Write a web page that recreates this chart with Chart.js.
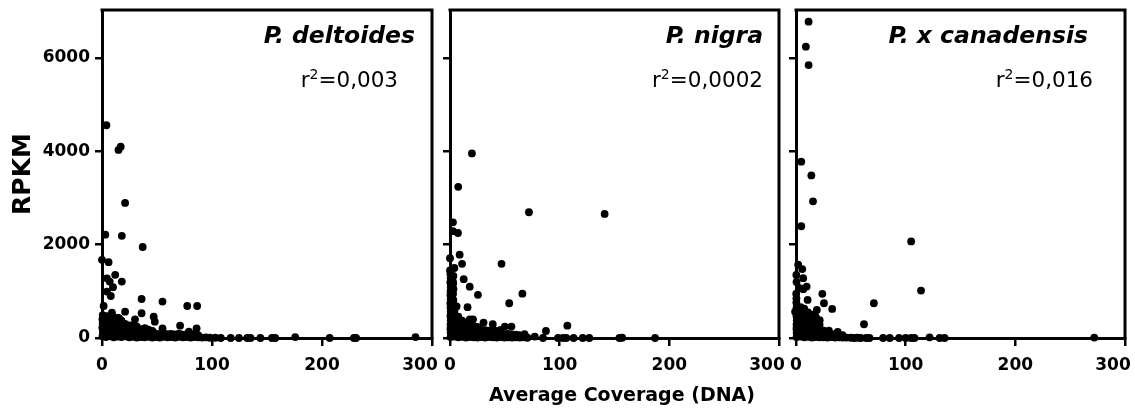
<!DOCTYPE html>
<html><head><meta charset="utf-8">
<script src="https://cdn.jsdelivr.net/npm/chart.js@4.4.0/dist/chart.umd.min.js"></script>
<style>
html,body{margin:0;padding:0;background:#fff;width:1135px;height:413px;overflow:hidden}
.p{position:absolute;top:0;height:413px}
canvas{display:block}
</style></head><body>
<div class="p" style="left:0;width:470px"><canvas id="c1" width="470" height="413"></canvas></div>
<div class="p" style="left:436px;width:370px"><canvas id="c2" width="370" height="413"></canvas></div>
<div class="p" style="left:782px;width:353px"><canvas id="c3" width="353" height="413"></canvas></div>
<script>
// ---- data ----
const xTicks = [0, 100, 200, 300];
const yTicks = [0, 2000, 4000, 6000];
const panelTitles = ['P. deltoides', 'P. nigra', 'P. x canadensis'];
const r2Values = ['0,003', '0,0002', '0,016'];
const xAxisTitle = 'Average Coverage (DNA)';
const yAxisTitle = 'RPKM';

const deltoidesPoints = [
 [4,4560],[15,4030],[17,4100],[21,2895],[3,2215],[18,2190],[37,1950],[0,1676],[6,1626],[12,1355],
 [4.5,1280],[7,1210],[18,1210],[10,1090],[4.5,995],[8,900],[36,836],[55,780],[77.5,686],[86.5,686],
 [1.5,686],[21,565],[36,530],[9,545],[47,458],[48,350],[30,400],[15.5,425],[71,265],[79,135],
 [55,208],[86,208],[39,210],
 [0.5,40],[0.8,130],[0.3,220],[0.6,310],[0.4,400],[0.7,490],
 [3.6,20],[3.8,110],[3.4,200],[3.9,290],[3.5,380],[3.7,470],
 [7.1,35],[7.3,125],[6.9,215],[7.2,305],[7,395],[7.4,480],
 [10.6,15],[10.4,105],[10.8,195],[10.5,285],[10.7,375],[10.3,455],
 [14.1,30],[14.3,120],[13.9,210],[14.2,300],[14,390],[14.4,430],
 [17.6,20],[17.4,110],[17.8,200],[17.5,290],[17.7,370],
 [21.1,35],[20.9,120],[21.3,210],[21,300],
 [24.6,15],[24.4,100],[24.8,185],[24.5,270],
 [28.1,25],[27.9,110],[28.3,195],[28,275],
 [31.6,10],[31.4,95],[31.8,180],[31.5,250],
 [35.1,20],[34.9,105],[35.3,190],
 [38.6,15],[38.4,95],[38.8,170],
 [42.1,25],[41.9,110],[42.3,180],
 [45.6,10],[45.4,90],[45.8,150],
 [49.1,20],[49,95],[52.6,10],[52.4,85],[56.1,25],[56,105],[59.6,15],[59.4,80],[63.1,20],[62.9,90],
 [66.6,10],[66.4,75],[70.1,25],[70,95],[73.6,15],[73.4,70],[77.1,20],[77,80],[80.6,10],[80.4,70],
 [84.1,20],[84,90],[87.6,15],[87.4,60],[91.1,10],[94.6,15],[98.1,5],
 [103,5],[108,0],[117,0],[124.5,0],[132,0],[135,0],[144,0],[154.5,0],[157.5,0],[175.7,20],
 [207,0],[229,0],[231,0],[285,20]
];

const nigraPoints = [
 [20,3957],[7.5,3240],[72,2695],[141,2660],[2.7,2480],[7.3,2250],[2.7,2290],[8.8,1785],[0,1710],[11,1590],
 [47,1590],[0,1450],[4,1500],[12.5,1260],[2.7,1210],[18,1100],[66,950],[25.5,925],[3,815],[54,745],
 [16,660],[6,675],[18,400],[21,400],[30.6,330],[39,295],[50,245],[56,245],[87.5,150],[107,265],
 [0.4,1370],[0.6,1280],[0.3,1190],[0.7,1100],[0.5,1010],[0.4,920],[0.6,830],[0.3,740],[0.5,650],
 [3.1,1330],[2.9,1170],[3.2,1050],[2.8,950],[3.0,800],[3.3,700],
 [0.5,20],[0.6,110],[0.4,200],[0.5,290],[0.7,380],[0.4,470],[0.6,560],
 [4.1,30],[3.9,120],[4.2,210],[4,300],[3.8,390],[4.1,480],[4,570],
 [7.6,15],[7.4,105],[7.7,195],[7.5,285],[7.3,375],[7.6,460],
 [11.1,25],[10.9,115],[11.2,205],[11,295],[11.1,370],
 [14.6,10],[14.4,95],[14.7,180],[14.5,270],[14.6,330],
 [18.1,20],[17.9,105],[18.2,190],[18,275],
 [21.6,15],[21.4,100],[21.7,185],[21.5,260],
 [25.1,10],[24.9,95],[25.2,180],[25,240],
 [28.6,20],[28.4,100],[28.7,175],
 [32.1,10],[31.9,90],[32.2,170],[35.6,20],[35.4,95],[35.7,160],[39.1,15],[38.9,90],[39.2,170],
 [42.6,10],[42.4,80],[42.7,150],[46.1,20],[45.9,95],[46.2,175],[49.6,10],[49.4,85],[53.1,15],[52.9,90],
 [56.6,10],[56.4,75],[60.1,15],[59.9,70],
 [63.6,10],[63.4,60],[67.1,15],[68,80],[70.6,5],
 [77.3,30],[84.8,0],[98.5,0],[103,0],[106,0],[112.7,0],[121,0],[127,0],[154.5,0],[157,5],[187,0]
];

const canadensisPoints = [
 [11.5,6780],[9,6245],[11.5,5850],[4.8,3780],[14,3485],[15.5,2930],[4.8,2395],[105,2070],[114,1017],[71,745],
 [62,295],[2,1570],[5.7,1477],[6.6,1283],[3.6,1068],[9.7,1103],[6.6,1047],[24,946],[25.5,745],[10.6,817],
 [19,602],[33,623],
 [0.3,1350],[0.5,1200],[0.2,950],[0.4,850],[-0.8,565],[0.3,760],
 [0.5,20],[0.6,110],[0.4,200],[0.5,290],[0.7,380],[0.4,470],[0.6,560],[0.5,650],
 [4.1,30],[3.9,120],[4.2,210],[4,300],[3.8,390],[4.1,480],[4,570],[4.2,660],
 [7.6,15],[7.4,105],[7.7,195],[7.5,285],[7.3,375],[7.6,465],[7.4,555],[7.5,630],
 [11.1,25],[10.9,115],[11.2,205],[11,295],[11.1,385],[10.9,475],[11,550],
 [14.6,10],[14.4,100],[14.7,190],[14.5,280],[14.6,370],[14.4,460],[14.5,500],
 [18.1,20],[17.9,110],[18.2,200],[18,290],[18.1,380],[17.9,460],
 [21.6,15],[21.4,105],[21.7,195],[21.5,285],[21.6,380],
 [25.1,15],[24.9,95],[25.2,160],[28.6,10],[28.4,85],[32.1,20],[31.9,90],[35.6,10],[35.4,75],
 [39.1,15],[38,130],[42.6,10],[42.4,60],[30,160],
 [46,10],[50,5],[53,0],[56,5],[59,0],[64,0],[67,0],[79.4,0],[85.5,0],[94,0],[100,0],[105,0],[108,0],
 [121.8,15],[131,0],[135.5,0],[272,10]
];

// ---- drawing ----
const FONT = 'DejaVu Sans';

const framePlugin = {
  id: 'frame',
  beforeDraw(chart) {
    // nudge the last x tick label inward, as in the original figure
    const sx = chart.scales.x;
    const items = sx.getLabelItems(chart.chartArea);
    if (items && items.length) {
      const last = items[items.length - 1];
      const t = last.options.translation;
      last.options.translation = [t[0] - 12, t[1]];
    }
  },
  beforeDatasetsDraw(chart) {
    const {ctx, chartArea: a} = chart;
    ctx.save();
    ctx.strokeStyle = '#000';
    ctx.lineWidth = 3;
    ctx.beginPath();
    ctx.moveTo(a.left - 1.5, a.top);
    ctx.lineTo(a.right, a.top);
    ctx.lineTo(a.right, a.bottom + 1.5);
    ctx.stroke();
    ctx.restore();
  }
};

const textPlugin = {
  id: 'panelText',
  afterDraw(chart) {
    const o = chart.options.plugins.panelText;
    if (!o) return;
    const ctx = chart.ctx;
    ctx.save();
    ctx.fillStyle = '#000';
    ctx.textBaseline = 'alphabetic';
    ctx.textAlign = 'right';
    ctx.font = 'italic bold 23.5px "' + FONT + '"';
    ctx.fillText(o.title, o.titleRight, 43);
    // r^2 text
    ctx.textAlign = 'left';
    const main = '=' + o.r2;
    ctx.font = '21.5px "' + FONT + '"';
    const wMain = ctx.measureText(main).width;
    const wR = ctx.measureText('r').width;
    ctx.font = '14px "' + FONT + '"';
    const wSup = ctx.measureText('2').width;
    let x = o.r2Right - wMain - wSup - wR;
    ctx.font = '21.5px "' + FONT + '"';
    ctx.fillText('r', x, 87); x += wR;
    ctx.font = '14px "' + FONT + '"';
    ctx.fillText('2', x, 79); x += wSup;
    ctx.font = '21.5px "' + FONT + '"';
    ctx.fillText(main, x, 87);
    // shared x-axis title
    if (o.xTitle) {
      ctx.textAlign = 'center';
      ctx.textBaseline = 'middle';
      ctx.font = 'bold 19px "' + FONT + '"';
      ctx.fillText(o.xTitle, o.xTitleX, 396);
    }
    ctx.restore();
  }
};

function makeChart(id, points, cfg) {
  return new Chart(document.getElementById(id), {
    type: 'scatter',
    data: { datasets: [{
      data: points.map(p => ({x: p[0], y: p[1]})),
      backgroundColor: '#000', borderWidth: 0, pointRadius: 3.9, pointHoverRadius: 3.9, clip: false
    }]},
    options: {
      responsive: false, animation: false, events: [],
      layout: { padding: { top: 10, right: cfg.padRight, left: 0, bottom: 0 } },
      plugins: {
        legend: { display: false }, tooltip: { enabled: false },
        panelText: { title: cfg.title, r2: cfg.r2, titleRight: cfg.titleRight, r2Right: cfg.r2Right,
                     xTitle: cfg.xTitle, xTitleX: cfg.xTitleX }
      },
      scales: {
        x: {
          type: 'linear', min: 0, max: 300,
          afterBuildTicks: s => { s.ticks = xTicks.map(v => ({value: v})); },
          afterFit: s => { s.height = 75; s.paddingLeft = 0; s.paddingRight = 0; },
          ticks: { color: '#000', font: { family: FONT, weight: 'bold', size: 17 }, padding: 9,
                   maxRotation: 0, autoSkip: false, callback: v => String(v) },
          grid: { display: true, drawOnChartArea: false, drawTicks: true, tickLength: 8, color: '#000', lineWidth: 2.5 },
          border: { display: true, color: '#000', width: 3 }
        },
        y: {
          type: 'linear', min: 0, max: 7030,
          afterBuildTicks: s => { s.ticks = yTicks.map(v => ({value: v})); },
          afterFit: s => { s.width = cfg.yWidth; s.paddingTop = 0; s.paddingBottom = 0; },
          ticks: { color: '#000', font: { family: FONT, weight: 'bold', size: 17 }, padding: 5,
                   callback: v => cfg.showYLabels ? String(v) : '' },
          grid: { display: true, drawOnChartArea: false, drawTicks: true, tickLength: 7, color: '#000', lineWidth: 2.5 },
          border: { display: true, color: '#000', width: 3 },
          title: { display: cfg.showYTitle, text: yAxisTitle, color: '#000',
                   font: { family: FONT, weight: 'bold', size: 25 }, padding: { top: 8, bottom: 0 } }
        }
      }
    },
    plugins: [framePlugin, textPlugin]
  });
}

makeChart('c1', deltoidesPoints, { padRight: 38, yWidth: 102, showYLabels: true, showYTitle: true,
  title: panelTitles[0], r2: r2Values[0], titleRight: 415, r2Right: 398 });
makeChart('c2', nigraPoints, { padRight: 27, yWidth: 14, showYLabels: false, showYTitle: false,
  title: panelTitles[1], r2: r2Values[1], titleRight: 327, r2Right: 327, xTitle: xAxisTitle, xTitleX: 186 });
makeChart('c3', canadensisPoints, { padRight: 10, yWidth: 14, showYLabels: false, showYTitle: false,
  title: panelTitles[2], r2: r2Values[2], titleRight: 306, r2Right: 311 });
</script>
</body></html>
